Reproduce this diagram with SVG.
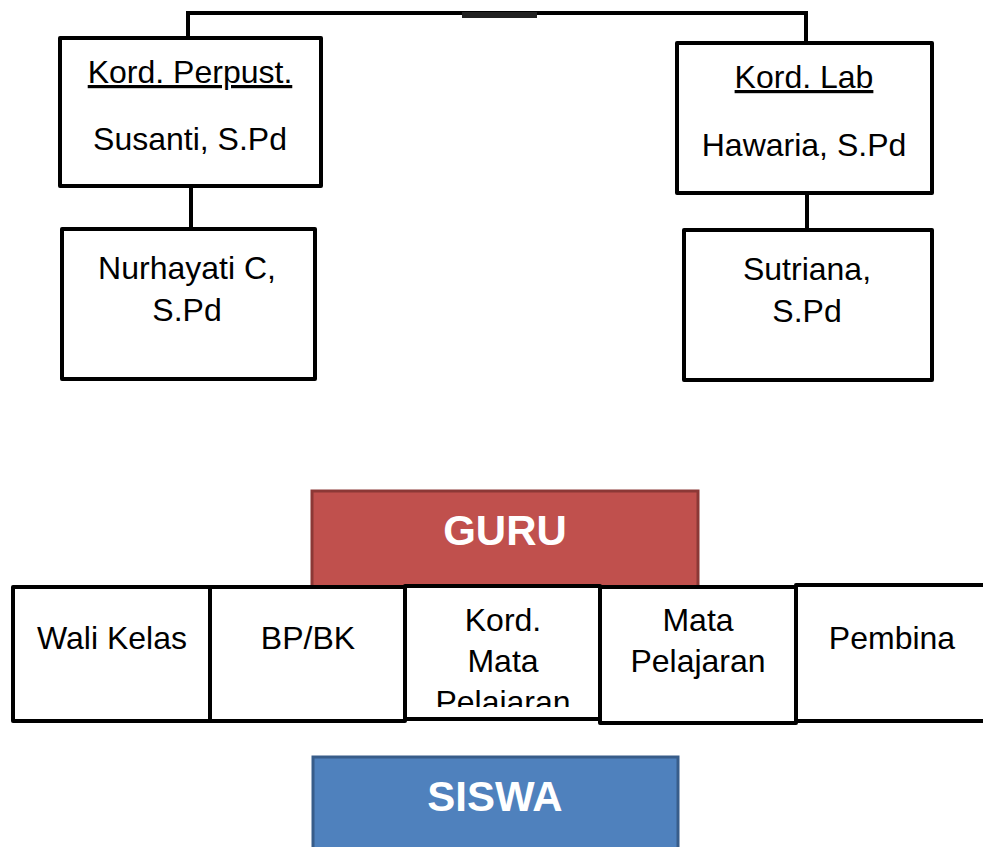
<svg xmlns="http://www.w3.org/2000/svg" width="983" height="847" viewBox="0 0 983 847">
<style>
.box{fill:#fff;stroke:#000;stroke-width:4;stroke-linejoin:round}
.t{font-family:"Liberation Sans",Arial,sans-serif;font-size:32px;fill:#000;text-anchor:middle}
.h{font-family:"Liberation Sans",Arial,sans-serif;font-size:42px;font-weight:bold;fill:#fff;text-anchor:middle}
.c{fill:none;stroke:#000;stroke-width:4}
.u{text-decoration:underline}
</style>
<defs>
<clipPath id="clipKMP"><rect x="405" y="585" width="195" height="122"/></clipPath>
</defs>
<g id="connectors">
<path class="c" d="M188 38 V13 H806 V43"/>
<rect x="462" y="12" width="75" height="6" fill="#222"/>
<path class="c" d="M191 186 V229"/>
<path class="c" d="M807 193 V230"/>
</g>
<g id="kord-perpust">
<rect class="box" x="60" y="38" width="261" height="148"/>
<text class="t u" x="190" y="83">Kord. Perpust.</text>
<text class="t" x="190" y="150">Susanti, S.Pd</text>
</g>
<g id="kord-lab">
<rect class="box" x="677" y="43" width="255" height="150"/>
<text class="t u" x="804" y="88">Kord. Lab</text>
<text class="t" x="804" y="156">Hawaria, S.Pd</text>
</g>
<g id="nurhayati">
<rect class="box" x="62" y="229" width="253" height="150"/>
<text class="t" x="187" y="279">Nurhayati C,</text>
<text class="t" x="187" y="321">S.Pd</text>
</g>
<g id="sutriana">
<rect class="box" x="684" y="230" width="248" height="150"/>
<text class="t" x="807" y="280">Sutriana,</text>
<text class="t" x="807" y="322">S.Pd</text>
</g>
<g id="guru">
<rect x="312" y="491" width="386" height="96" fill="#C0504D" stroke="#8C3836" stroke-width="3"/>
<text class="h" x="505" y="545">GURU</text>
</g>
<g id="wali-kelas">
<rect class="box" x="13" y="587" width="197" height="134"/>
<text class="t" x="112" y="649">Wali Kelas</text>
</g>
<g id="bpbk">
<rect class="box" x="210" y="587" width="195" height="134"/>
<text class="t" x="308" y="649">BP/BK</text>
</g>
<g id="kord-mata-pelajaran">
<rect class="box" x="405" y="586" width="195" height="133"/>
<g clip-path="url(#clipKMP)">
<text class="t" x="503" y="631">Kord.</text>
<text class="t" x="503" y="672">Mata</text>
<text class="t" x="503" y="713">Pelajaran</text>
</g>
</g>
<g id="mata-pelajaran">
<rect class="box" x="600" y="587" width="196" height="136"/>
<text class="t" x="698" y="631">Mata</text>
<text class="t" x="698" y="672">Pelajaran</text>
</g>
<g id="pembina">
<rect class="box" x="796" y="585" width="200" height="136"/>
<text class="t" x="892" y="649">Pembina</text>
</g>
<g id="siswa">
<rect x="313" y="757" width="365" height="100" fill="#4F81BD" stroke="#385D8A" stroke-width="3"/>
<text class="h" x="495" y="811">SISWA</text>
</g>
</svg>
